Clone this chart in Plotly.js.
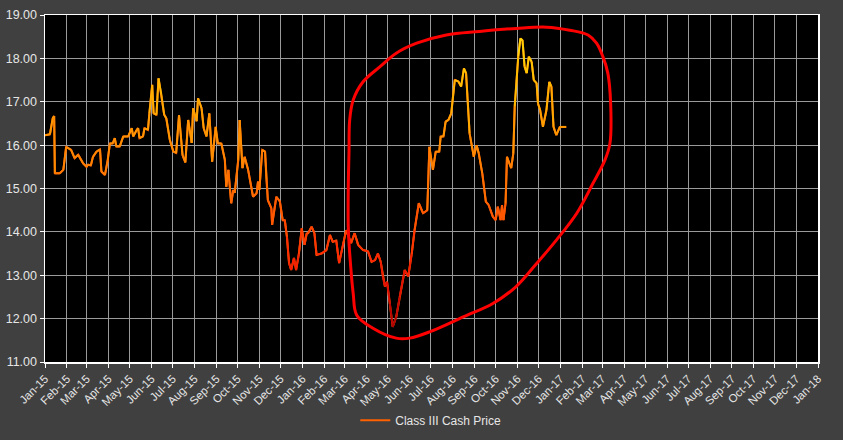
<!DOCTYPE html>
<html>
<head>
<meta charset="utf-8">
<script src="https://cdn.plot.ly/plotly-3.0.1.min.js"></script>
<style>html,body{margin:0;padding:0;background:#404040;}#chart{width:843px;height:440px;}</style>
</head>
<body>
<div id="chart"></div>
<script>
// Class III Cash Price series
const dates = [
"2015-01-01","2015-01-08","2015-01-12","2015-01-14","2015-01-15","2015-01-22","2015-01-27","2015-01-31",
"2015-02-07","2015-02-12","2015-02-17","2015-02-24","2015-03-01","2015-03-03","2015-03-07","2015-03-10",
"2015-03-15","2015-03-20","2015-03-22","2015-03-27","2015-03-31","2015-04-03","2015-04-07","2015-04-10",
"2015-04-12","2015-04-17","2015-04-22","2015-04-29","2015-05-04","2015-05-06","2015-05-11","2015-05-13",
"2015-05-15","2015-05-20","2015-05-22","2015-05-27","2015-05-29","2015-06-02","2015-06-04","2015-06-08",
"2015-06-11","2015-06-15","2015-06-19","2015-06-22","2015-06-27","2015-07-02","2015-07-06","2015-07-10",
"2015-07-15","2015-07-19","2015-07-23","2015-07-28","2015-07-30","2015-08-04","2015-08-06","2015-08-11",
"2015-08-14","2015-08-18","2015-08-22","2015-08-26","2015-08-31","2015-09-03","2015-09-08","2015-09-13",
"2015-09-15","2015-09-18","2015-09-22","2015-09-25","2015-09-27","2015-10-02","2015-10-04","2015-10-08",
"2015-10-11","2015-10-16","2015-10-23","2015-10-28","2015-10-30","2015-11-01","2015-11-05","2015-11-09",
"2015-11-11","2015-11-13","2015-11-18","2015-11-19","2015-11-25","2015-11-30","2015-12-04","2015-12-07",
"2015-12-10","2015-12-13","2015-12-16","2015-12-20","2015-12-23","2015-12-27","2015-12-31","2016-01-04",
"2016-01-07","2016-01-09","2016-01-14","2016-01-18","2016-01-21","2016-01-28","2016-02-04","2016-02-09",
"2016-02-13","2016-02-18","2016-02-22","2016-02-28","2016-03-03","2016-03-10","2016-03-15","2016-03-20",
"2016-03-27","2016-04-03","2016-04-08","2016-04-13","2016-04-17","2016-04-21","2016-04-24","2016-04-27",
"2016-04-30","2016-05-04","2016-05-08","2016-05-13","2016-05-18","2016-05-25","2016-05-30","2016-06-04",
"2016-06-08","2016-06-14","2016-06-20","2016-06-26","2016-06-29","2016-07-04","2016-07-08","2016-07-13",
"2016-07-15","2016-07-19","2016-07-22","2016-07-26","2016-07-30","2016-08-04","2016-08-09","2016-08-13",
"2016-08-17","2016-08-20","2016-08-25","2016-08-31","2016-09-04","2016-09-07","2016-09-12","2016-09-17",
"2016-09-21","2016-09-27","2016-10-01","2016-10-04","2016-10-08","2016-10-10","2016-10-12","2016-10-15",
"2016-10-17","2016-10-23","2016-10-26","2016-10-28","2016-11-02","2016-11-05","2016-11-08","2016-11-11",
"2016-11-14","2016-11-17","2016-11-21","2016-11-24","2016-11-28","2016-11-30","2016-12-03","2016-12-07",
"2016-12-12","2016-12-16","2016-12-19","2016-12-22","2016-12-26","2016-12-31","2017-01-09"
];
const prices = [
16.23,16.25,16.62,16.67,15.35,15.35,15.43,15.96,
15.89,15.70,15.78,15.58,15.50,15.55,15.53,15.73,
15.85,15.90,15.39,15.31,15.66,16.04,16.04,16.16,
15.97,15.97,16.20,16.20,16.39,16.20,16.35,16.39,
16.16,16.20,16.39,16.35,16.73,17.39,16.73,16.70,
17.54,17.16,16.70,16.62,16.12,15.85,15.82,16.69,
15.77,15.60,16.58,16.05,16.85,16.55,17.08,16.85,
16.39,16.20,16.73,15.62,16.42,16.04,16.04,15.66,
15.04,15.43,14.66,14.97,14.90,15.66,16.58,15.47,
15.73,15.43,14.81,14.89,15.16,14.97,15.89,15.85,
15.20,14.73,14.54,14.16,14.81,14.70,14.27,14.27,
13.89,13.28,13.12,13.40,13.12,13.50,14.08,13.70,
13.96,13.97,14.12,13.97,13.47,13.50,13.58,13.93,
13.77,13.80,13.28,13.74,14.04,13.74,13.97,13.70,
13.58,13.55,13.31,13.35,13.50,13.31,12.97,12.74,
12.85,12.35,11.81,12.04,12.51,13.12,12.97,13.50,
14.04,14.66,14.43,14.50,15.96,15.43,15.85,15.85,
16.20,16.20,16.54,16.58,16.73,17.50,17.47,17.35,
17.77,17.66,16.27,15.73,16.00,15.81,15.35,14.70,
14.62,14.35,14.27,14.58,14.27,14.62,14.27,14.66,
15.73,15.47,15.81,16.89,18.04,18.46,18.42,17.81,
17.66,18.04,17.92,17.50,17.43,16.96,16.81,16.42,
16.81,17.46,17.35,16.42,16.23,16.42,16.42
];
// Hand-drawn red loop annotation
const loopDates = [
"2016-03-08","2016-03-13","2016-03-27","2016-04-20","2016-05-13","2016-06-11","2016-07-23","2016-09-08",
"2016-10-30","2016-12-12","2017-01-14","2017-02-09","2017-02-21","2017-03-02","2017-03-09","2017-03-13",
"2017-03-12","2017-03-05","2017-02-16","2017-01-24","2016-12-26","2016-11-28","2016-10-30","2016-09-27",
"2016-08-16","2016-06-30","2016-06-01","2016-05-13","2016-04-10","2016-03-18","2016-03-13","2016-03-08",
"2016-03-06","2016-03-06","2016-03-07","2016-03-08"
];
const loopValues = [
16.58,17.04,17.46,17.81,18.12,18.35,18.54,18.62,
18.69,18.72,18.65,18.54,18.35,18.04,17.66,16.96,
16.04,15.66,15.12,14.43,13.81,13.27,12.74,12.35,
12.04,11.70,11.55,11.55,11.78,12.08,12.58,13.51,
14.12,15.04,15.81,16.58
];
const seriesName = "Class III Cash Price";

// colour ramp by price level
const ramp = [[11.8,[165,0,0]],[12.6,[220,10,0]],[13.5,[255,40,0]],[14.5,[255,90,0]],[15.5,[255,125,0]],[16.5,[255,155,0]],[17.5,[255,190,0]],[18.5,[255,220,10]]];
function colorFor(v){
  if(v<=ramp[0][0]) return 'rgb('+ramp[0][1].join(',')+')';
  for(let i=1;i<ramp.length;i++){
    if(v<=ramp[i][0]){
      const t=(v-ramp[i-1][0])/(ramp[i][0]-ramp[i-1][0]);
      const c=ramp[i-1][1].map((a,k)=>Math.round(a+(ramp[i][1][k]-a)*t));
      return 'rgb('+c.join(',')+')';
    }
  }
  return 'rgb('+ramp[ramp.length-1][1].join(',')+')';
}

const traces = [];
traces.push({x:dates,y:prices,type:'scatter',mode:'lines',name:seriesName,
  line:{color:'#ff6000',width:2},hoverinfo:'skip',showlegend:true});
for(let i=0;i<dates.length-1;i++){
  traces.push({x:[dates[i],dates[i+1]],y:[prices[i],prices[i+1]],type:'scatter',mode:'lines',
    line:{color:colorFor((prices[i]+prices[i+1])/2),width:2},showlegend:false,hoverinfo:'skip'});
}
traces.push({x:loopDates,y:loopValues,type:'scatter',mode:'lines',line:{color:'#ff0000',width:3,shape:'spline',smoothing:1},
  showlegend:false,hoverinfo:'skip'});

const layout = {
  width:843,height:440,
  paper_bgcolor:'#404040',plot_bgcolor:'#000000',
  margin:{l:45,r:25,t:15,b:78},
  font:{family:'"Liberation Sans", Arial, sans-serif',size:12,color:'#e6e6e6'},
  xaxis:{type:'date',range:['2015-01-01','2018-01-01'],dtick:'M1',tick0:'2015-01-01',tickformat:'%b-%y',
    tickangle:-45,automargin:false,showgrid:true,gridcolor:'#9a9a9a',gridwidth:1,showline:true,linecolor:'#ffffff',linewidth:1.5,
    mirror:true,ticks:'outside',ticklen:4,tickcolor:'#ffffff',tickfont:{size:11.5,color:'#e6e6e6'},zeroline:false},
  yaxis:{range:[11,19],dtick:1,tickformat:'.2f',automargin:false,showgrid:true,gridcolor:'#9a9a9a',gridwidth:1,showline:true,
    linecolor:'#ffffff',linewidth:1.5,mirror:true,ticks:'outside',ticklen:4,tickcolor:'#ffffff',
    tickfont:{size:12.5,color:'#e6e6e6'},zeroline:false},
  showlegend:true,
  legend:{orientation:'h',xref:'container',yref:'container',x:0.511,xanchor:'center',y:0.045,yanchor:'middle',
    bgcolor:'rgba(0,0,0,0)',font:{size:12,color:'#e6e6e6'}}
};
Plotly.newPlot('chart',traces,layout,{displayModeBar:false,staticPlot:true});
</script>
</body>
</html>
